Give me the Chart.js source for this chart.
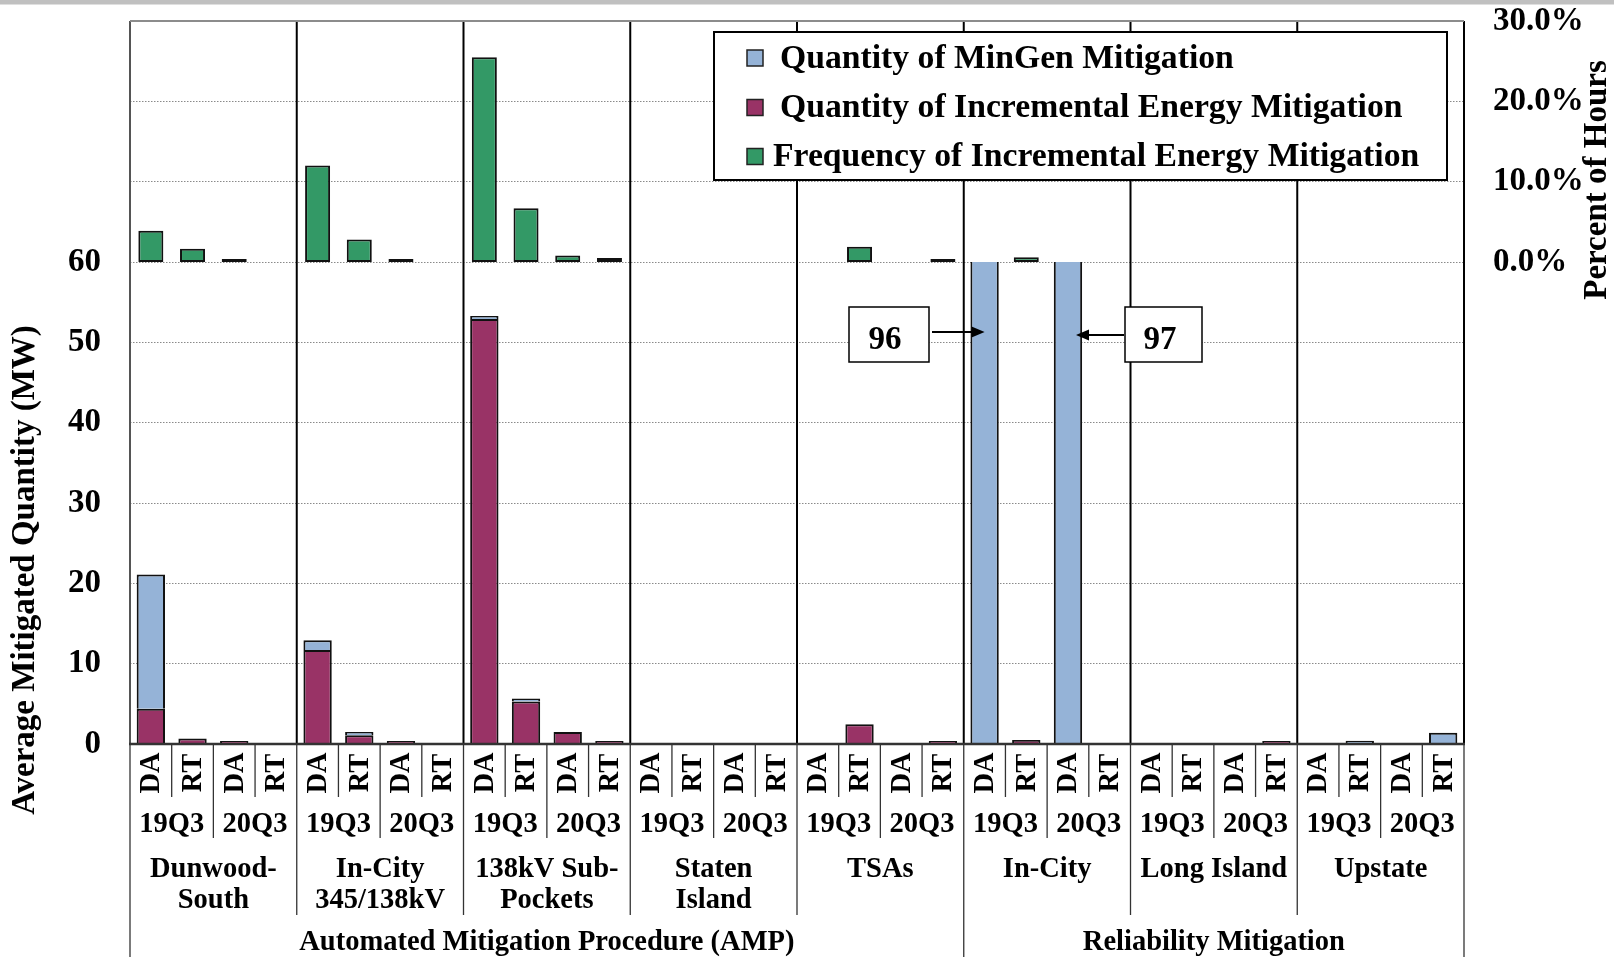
<!DOCTYPE html>
<html>
<head>
<meta charset="utf-8">
<title>Mitigation chart</title>
<script src="https://cdn.jsdelivr.net/npm/chart.js@4.4.1/dist/chart.umd.min.js"></script>
<style>
html,body{margin:0;padding:0;background:#ffffff;overflow:hidden;}
#wrap{position:relative;width:1614px;height:957px;}
canvas{display:block;}
</style>
</head>
<body>
<div id="wrap"><canvas id="chart" width="1614" height="957"></canvas></div>
<script>
// ---------------- data ----------------
const sectionNames = ['Automated Mitigation Procedure (AMP)', 'Reliability Mitigation'];
const sectionGroupCounts = [5, 3];
const groupNames = [['Dunwood-', 'South'], ['In-City', '345/138kV'], ['138kV Sub-', 'Pockets'], ['Staten', 'Island'], ['TSAs'], ['In-City'], ['Long Island'], ['Upstate']];
const periods = ['19Q3', '20Q3'];
const markets = ['DA', 'RT'];
const mwTicks = [0, 10, 20, 30, 40, 50, 60];
const pctTicks = [0, 10, 20, 30];
const seriesNames = ['Quantity of MinGen Mitigation', 'Quantity of Incremental Energy Mitigation', 'Frequency of Incremental Energy Mitigation'];

// one value per category: group x period x market (DA 19Q3, RT 19Q3, DA 20Q3, RT 20Q3)
const minGenMW = [16.7, null, null, null,  1.2, 0.4, null, null,  0.3, 0.3, null, null,  null, null, null, null,
                  null, null, null, null,  96, null, 97, null,  null, null, null, null,  null, 0.4, null, 1.4];
const incrementalMW = [4.4, 0.7, 0.1, null,  11.7, 1.1, 0.25, null,  52.9, 5.3, 1.5, 0.2,  null, null, null, null,
                       null, 2.45, null, 0.1,  null, 0.5, null, null,  null, null, null, 0.1,  null, null, null, null];
const frequencyPct = [3.9, 1.65, 0.25, null,  12.0, 2.8, 0.1, null,  25.5, 6.7, 0.8, 0.5,  null, null, null, null,
                      null, 1.9, null, 0.1,  null, 0.6, null, null,  null, null, null, null,  null, null, null, null];

const categories = [];
groupNames.forEach(g => periods.forEach(p => markets.forEach(m => categories.push(g.join(' ') + ' ' + p + ' ' + m))));
const marketOf = i => markets[i % 2];

// ---------------- style ----------------
const FONT = '"Liberation Serif", "Times New Roman", Times, serif';
Chart.defaults.font.family = FONT;
Chart.defaults.font.weight = 'bold';
Chart.defaults.color = '#000';
const COL_BLUE = '#95b3d7', COL_PINK = '#993366', COL_GREEN = '#339966';
const seriesColors = [COL_BLUE, COL_PINK, COL_GREEN];

function bold(size) { return 'bold ' + size + 'px ' + FONT; }

// clip MW bars at the top of the MW axis (values above it run off the MW panel)
const clipMW = {
  id: 'clipMW',
  beforeDatasetDraw(chart, args) {
    const ds = chart.data.datasets[args.index];
    if (ds.yAxisID !== 'y') return;
    const {ctx, chartArea: a, scales: {y}} = chart;
    const top = y.getPixelForValue(mwTicks[mwTicks.length - 1]);
    ctx.save();
    ctx.beginPath();
    ctx.rect(a.left, top, a.right - a.left, chart.height - top);
    ctx.clip();
  },
  afterDatasetDraw(chart, args) {
    const ds = chart.data.datasets[args.index];
    if (ds.yAxisID !== 'y') return;
    chart.ctx.restore();
  }
};

function geom(chart) {
  const x = chart.scales.x;
  const n = categories.length;
  const c0 = x.getPixelForValue(0);
  const cw = (x.getPixelForValue(n - 1) - c0) / (n - 1);
  return { center: i => c0 + i * cw, edge: i => c0 - cw / 2 + i * cw, cw };
}

function vline(ctx, px, y0, y1, w, c) {
  ctx.save(); ctx.strokeStyle = c; ctx.lineWidth = w;
  ctx.beginPath(); ctx.moveTo(px, y0); ctx.lineTo(px, y1); ctx.stroke(); ctx.restore();
}
function hline(ctx, py, x0, x1, w, c) {
  ctx.save(); ctx.strokeStyle = c; ctx.lineWidth = w;
  ctx.beginPath(); ctx.moveTo(x0, py); ctx.lineTo(x1, py); ctx.stroke(); ctx.restore();
}

const frame = {
  id: 'frame',
  beforeDatasetsDraw(chart) {
    const {ctx, chartArea: a} = chart;
    const g = geom(chart);
    for (let k = 1; k < groupNames.length; k++) vline(ctx, g.edge(k * 4), a.top, a.bottom, 2, '#000');
    vline(ctx, g.edge(categories.length), a.top, a.bottom, 2, '#000');
    vline(ctx, g.edge(0), a.top, a.bottom, 2, '#555');
    hline(ctx, a.top, a.left, a.right, 2, '#8c8c8c');
  },
  afterDraw(chart) {
    const {ctx, chartArea: a, scales: {y}} = chart;
    const g = geom(chart);
    const base = a.bottom, H = chart.height;
    const n = categories.length;

    // section boundaries (category indices)
    const secEdges = [0];
    sectionGroupCounts.forEach(c => secEdges.push(secEdges[secEdges.length - 1] + c * 4));

    // separator lines in label area
    for (let i = 0; i <= n; i++) {
      let y1;
      if (secEdges.includes(i)) y1 = H;
      else if (i % 4 === 0) y1 = base + 171;
      else if (i % 2 === 0) y1 = base + 94;
      else y1 = base + 53;
      vline(ctx, g.edge(i), base, y1, 1.3, '#333');
    }
    hline(ctx, base, a.left - 1, a.right + 1, 2.5, '#333');

    ctx.save();
    ctx.fillStyle = '#000';
    // market labels (rotated)
    ctx.font = bold(28.5);
    ctx.textAlign = 'center';
    ctx.textBaseline = 'middle';
    for (let i = 0; i < n; i++) {
      ctx.save();
      ctx.translate(g.center(i) + 1, base + 29);
      ctx.rotate(-Math.PI / 2);
      ctx.fillText(marketOf(i), 0, 0);
      ctx.restore();
    }
    // period labels
    ctx.textBaseline = 'alphabetic';
    for (let k = 0; k < n / 2; k++) {
      const cx = (g.center(2 * k) + g.center(2 * k + 1)) / 2;
      ctx.fillText(periods[k % 2], cx, base + 88);
    }
    // group labels
    groupNames.forEach((lines, k) => {
      const cx = (g.edge(k * 4) + g.edge(k * 4 + 4)) / 2;
      lines.forEach((t, j) => ctx.fillText(t, cx, base + 133 + j * 31));
    });
    // section labels
    sectionNames.forEach((t, s) => {
      const cx = (g.edge(secEdges[s]) + g.edge(secEdges[s + 1])) / 2;
      ctx.fillText(t, cx, base + 206);
    });

    // axis titles
    ctx.font = bold(33);
    ctx.textBaseline = 'middle';
    ctx.save();
    ctx.translate(25, 570);
    ctx.rotate(-Math.PI / 2);
    ctx.fillText('Average Mitigated Quantity (MW)', 0, 0);
    ctx.restore();
    ctx.save();
    ctx.translate(1597, 180);
    ctx.rotate(-Math.PI / 2);
    ctx.fillText('Percent of Hours', 0, 0);
    ctx.restore();
    ctx.restore();

    // legend
    ctx.save();
    ctx.fillStyle = '#fff';
    ctx.fillRect(714, 32, 733, 148);
    ctx.strokeStyle = '#000'; ctx.lineWidth = 2;
    ctx.strokeRect(714, 32, 733, 148);
    const rowY = [58, 107.5, 156.5];
    const textX = [780, 780, 773];
    ctx.font = bold(33.7);
    ctx.textAlign = 'left';
    ctx.textBaseline = 'middle';
    seriesNames.forEach((t, k) => {
      ctx.fillStyle = seriesColors[k];
      ctx.fillRect(747, rowY[k] - 8, 16, 16);
      ctx.strokeStyle = '#222'; ctx.lineWidth = 1.5;
      ctx.strokeRect(747, rowY[k] - 8, 16, 16);
      ctx.fillStyle = '#000';
      ctx.fillText(t, textX[k], rowY[k] + 1);
    });
    ctx.restore();

    // callouts for the clipped MinGen bars
    const idxA = 20, idxB = 22;
    const yA = y.getPixelForValue(51.3), yB = y.getPixelForValue(50.9);
    const tipA = g.center(idxA), tipB = g.center(idxB) + 8;
    ctx.save();
    ctx.fillStyle = '#fff'; ctx.strokeStyle = '#000'; ctx.lineWidth = 1.5;
    ctx.fillRect(849, 307, 80, 55); ctx.strokeRect(849, 307, 80, 55);
    ctx.fillRect(1125, 307, 77, 55); ctx.strokeRect(1125, 307, 77, 55);
    ctx.fillStyle = '#000';
    ctx.font = bold(33);
    ctx.textAlign = 'center'; ctx.textBaseline = 'alphabetic';
    ctx.fillText(String(minGenMW[idxA]), 885, 349);
    ctx.fillText(String(minGenMW[idxB]), 1160, 348.5);
    // arrow A (pointing right)
    ctx.lineWidth = 2;
    ctx.beginPath(); ctx.moveTo(932, yA); ctx.lineTo(tipA - 12, yA); ctx.stroke();
    ctx.beginPath(); ctx.moveTo(tipA, yA); ctx.lineTo(tipA - 13, yA - 5.5); ctx.lineTo(tipA - 13, yA + 5.5); ctx.closePath(); ctx.fill();
    // arrow B (pointing left)
    ctx.beginPath(); ctx.moveTo(1124, yB); ctx.lineTo(tipB + 12, yB); ctx.stroke();
    ctx.beginPath(); ctx.moveTo(tipB, yB); ctx.lineTo(tipB + 13, yB - 5.5); ctx.lineTo(tipB + 13, yB + 5.5); ctx.closePath(); ctx.fill();
    ctx.restore();

    // top grey band
    ctx.save(); ctx.fillStyle = '#c0c0c0'; ctx.fillRect(0, 0, chart.width, 4.5); ctx.restore();
  }
};

const barCommon = { categoryPercentage: 1, borderColor: '#111', borderWidth: 2, minBarLength: 3 };

function fixVertical(width) {
  return s => { s.width = width; s.paddingTop = 0; s.paddingBottom = 0; };
}

new Chart(document.getElementById('chart'), {
  type: 'bar',
  data: {
    labels: categories,
    datasets: [
      Object.assign({ label: seriesNames[1], data: incrementalMW, yAxisID: 'y', backgroundColor: COL_PINK, barPercentage: 0.68 }, barCommon),
      Object.assign({ label: seriesNames[0], data: minGenMW, yAxisID: 'y', backgroundColor: COL_BLUE, barPercentage: 0.68 }, barCommon),
      Object.assign({ label: seriesNames[2], data: frequencyPct, yAxisID: 'y2', backgroundColor: COL_GREEN, barPercentage: 0.6, borderSkipped: false }, barCommon)
    ]
  },
  options: {
    responsive: false,
    animation: false,
    devicePixelRatio: 1,
    layout: { padding: { top: 21, left: 0, right: 0, bottom: 0 } },
    plugins: { legend: { display: false }, tooltip: { enabled: false } },
    scales: {
      x: {
        type: 'category', stacked: true, offset: true,
        grid: { display: false }, border: { display: false }, ticks: { display: false },
        afterFit: s => { s.height = 213; s.paddingLeft = 0; s.paddingRight = 0; }
      },
      y: {
        position: 'left', stacked: true, min: 0, max: 90,
        ticks: { stepSize: 10, padding: 29, font: { size: 33, weight: 'bold' }, color: '#000',
                 callback: v => (mwTicks.includes(v) ? String(v) : '') },
        grid: { drawTicks: false, lineWidth: 1,
                color: c => (c.tick && (c.tick.value === 0 || c.tick.value === 90)) ? 'rgba(0,0,0,0)' : '#8a8a8a' },
        border: { display: false, dash: [1.5, 1.5] },
        afterFit: fixVertical(130)
      },
      y2: {
        position: 'right', min: -60, max: 30,
        ticks: { stepSize: 10, padding: 29, font: { size: 33, weight: 'bold' }, color: '#000',
                 callback: v => (pctTicks.includes(v) ? v.toFixed(1) + '%' : '') },
        grid: { display: false, drawTicks: false }, border: { display: false },
        afterFit: fixVertical(150)
      }
    }
  },
  plugins: [clipMW, frame]
});
</script>
</body>
</html>
